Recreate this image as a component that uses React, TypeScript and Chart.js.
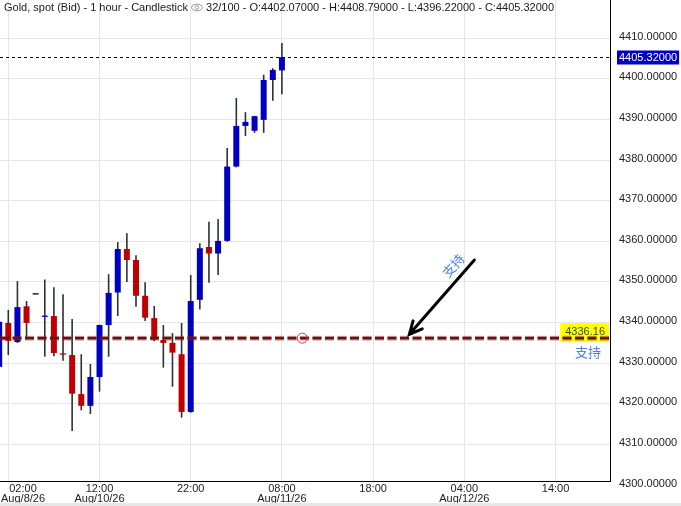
import React, { useEffect, useRef } from 'react';
import { Chart, registerables } from 'chart.js';

Chart.register(...registerables);

// ---- data ----
const CATEGORIES = [
  '01:00', '02:00', '03:00', '04:00', '05:00', '06:00', '07:00', '08:00',
  '09:00', '10:00', '11:00', '12:00', '13:00', '14:00', '15:00', '16:00',
  '17:00', '18:00', '19:00', '20:00', '21:00', '22:00', '23:00', '00:00',
  '01:00', '02:00', '03:00', '04:00', '05:00', '06:00', '07:00', '08:00',
];
const OPEN = [
  4329.1, 4339.9, 4335.2, 4344.0, 4346.9, 4341.4, 4341.6, 4332.3,
  4332.0, 4322.4, 4319.5, 4326.6, 4339.4, 4347.4, 4358.1, 4355.4,
  4346.6, 4341.1, 4335.7, 4335.0, 4332.2, 4318.0, 4345.6, 4358.6,
  4357.0, 4360.1, 4378.4, 4388.4, 4387.2, 4389.9, 4399.7, 4402.07,
];
const HIGH = [
  4341.0, 4343.1, 4350.2, 4345.3, 4346.9, 4350.6, 4348.7, 4347.0,
  4340.9, 4332.2, 4329.8, 4339.5, 4351.9, 4359.8, 4362.0, 4356.6,
  4349.9, 4344.1, 4339.4, 4337.4, 4339.9, 4351.7, 4359.5, 4364.8,
  4365.5, 4383.0, 4395.3, 4391.8, 4390.9, 4401.0, 4402.6, 4408.79,
];
const LOW = [
  4328.0, 4332.0, 4335.0, 4336.1, 4346.9, 4331.6, 4331.7, 4330.6,
  4313.3, 4318.4, 4317.5, 4323.0, 4331.6, 4341.6, 4350.0, 4343.9,
  4340.4, 4335.4, 4328.9, 4324.2, 4316.6, 4317.8, 4343.2, 4349.8,
  4351.7, 4359.9, 4378.2, 4385.9, 4386.7, 4386.7, 4394.6, 4396.22,
];
const CLOSE = [
  4340.2, 4335.5, 4343.8, 4339.9, 4346.9, 4341.6, 4332.5, 4332.1,
  4322.5, 4319.5, 4326.6, 4339.4, 4347.3, 4358.1, 4355.4, 4346.6,
  4341.2, 4335.8, 4335.0, 4332.6, 4318.0, 4345.3, 4358.3, 4357.0,
  4360.1, 4378.4, 4388.4, 4389.4, 4390.8, 4399.7, 4402.2, 4405.32,
];

const X_TICK_INDEX = [1, 11, 21, 31, 41, 51, 61];
const X_TICK_LABELS = [
  ['02:00', 'Aug/8/26'],
  ['12:00', 'Aug/10/26'],
  ['22:00'],
  ['08:00', 'Aug/11/26'],
  ['18:00'],
  ['04:00', 'Aug/12/26'],
  ['14:00'],
];
const Y_TICKS = [4300, 4310, 4320, 4330, 4340, 4350, 4360, 4370, 4380, 4390, 4400, 4410];

const X_MIN = 0.09;
const X_MAX = 66.97;
const Y_MIN = 4301.0;
const Y_MAX = 4419.4;

const TITLE = 'Gold, spot (Bid) - 1 hour - Candlestick';
const MAX_BARS = 100;

const SUPPORT = 4336.16;
const SUPPORT_TEXT = '支持';
const CIRCLE_AT = [33.23, SUPPORT];
const ARROW_FROM = [52.1, 4355.4];
const ARROW_TO = [44.97, 4337.1];
const ARROW_TEXT_AT = [49.8, 4354.0];

// ---- styles ----
const UP = '#0000c0';
const DOWN = '#c00000';
const FLAT = '#000000';
const WICK = '#2b3232';
const GRID = '#e6e6e6';
const FONT = '"Liberation Sans", Arial, sans-serif';
const CJK = '"Noto Sans CJK SC", sans-serif';

const overlay = {
  id: 'overlay',
  afterDatasetsDraw(chart: any) {
    const { ctx, chartArea: a, scales } = chart;
    const x = scales.x;
    const y = scales.y;
    ctx.save();

    // current price dotted line
    const last = CLOSE.length - 1;
    const py = Math.round(y.getPixelForValue(CLOSE[last])) + 0.5;
    ctx.strokeStyle = '#000';
    ctx.lineWidth = 1;
    ctx.setLineDash([3, 3]);
    ctx.beginPath();
    ctx.moveTo(a.left, py);
    ctx.lineTo(a.right, py);
    ctx.stroke();
    ctx.setLineDash([]);

    // support label box
    const sy = y.getPixelForValue(SUPPORT);
    ctx.font = `11px ${FONT}`;
    const sLabel = SUPPORT.toFixed(2);
    const tw = ctx.measureText(sLabel).width;
    ctx.fillStyle = '#ffff00';
    ctx.fillRect(a.right - tw - 10, sy - 15, tw + 9, 19);
    ctx.fillStyle = '#3c4a00';
    ctx.textAlign = 'right';
    ctx.textBaseline = 'alphabetic';
    ctx.fillText(sLabel, a.right - 5, sy - 3);

    // support line
    ctx.setLineDash([9, 3.5]);
    ctx.strokeStyle = 'rgba(150,40,40,0.35)';
    ctx.lineWidth = 5;
    ctx.beginPath();
    ctx.moveTo(a.left, sy);
    ctx.lineTo(a.right, sy);
    ctx.stroke();
    ctx.strokeStyle = '#6a1010';
    ctx.lineWidth = 2.8;
    ctx.beginPath();
    ctx.moveTo(a.left, sy);
    ctx.lineTo(a.right, sy);
    ctx.stroke();
    ctx.setLineDash([]);

    // anchor circle
    ctx.strokeStyle = '#ff2a2a';
    ctx.lineWidth = 1;
    ctx.beginPath();
    ctx.arc(x.getPixelForValue(CIRCLE_AT[0]), y.getPixelForValue(CIRCLE_AT[1]), 5, 0, Math.PI * 2);
    ctx.stroke();

    // support text below label
    ctx.font = `13px ${CJK}`;
    ctx.fillStyle = '#4f7ff0';
    ctx.textAlign = 'center';
    ctx.textBaseline = 'middle';
    ctx.fillText(SUPPORT_TEXT, a.right - 22, sy + 14);

    // arrow
    const x1 = x.getPixelForValue(ARROW_FROM[0]);
    const y1 = y.getPixelForValue(ARROW_FROM[1]);
    const x2 = x.getPixelForValue(ARROW_TO[0]);
    const y2 = y.getPixelForValue(ARROW_TO[1]);
    const ang = Math.atan2(y2 - y1, x2 - x1);
    ctx.strokeStyle = '#000';
    ctx.lineWidth = 3;
    ctx.lineCap = 'round';
    ctx.beginPath();
    ctx.moveTo(x1, y1);
    ctx.lineTo(x2, y2);
    const head = 14;
    const spread = 0.45;
    ctx.moveTo(x2 - head * Math.cos(ang - spread), y2 - head * Math.sin(ang - spread));
    ctx.lineTo(x2, y2);
    ctx.lineTo(x2 - head * Math.cos(ang + spread), y2 - head * Math.sin(ang + spread));
    ctx.stroke();

    // rotated text along arrow
    ctx.save();
    ctx.translate(x.getPixelForValue(ARROW_TEXT_AT[0]), y.getPixelForValue(ARROW_TEXT_AT[1]));
    ctx.rotate(Math.atan2(y1 - y2, x1 - x2));
    ctx.font = `13px ${CJK}`;
    ctx.fillStyle = '#4f7ff0';
    ctx.textAlign = 'center';
    ctx.textBaseline = 'middle';
    ctx.fillText(SUPPORT_TEXT, 0, 0);
    ctx.restore();

    // current price box on axis
    ctx.font = `11px ${FONT}`;
    const pLabel = CLOSE[last].toFixed(5);
    const pw = ctx.measureText(pLabel).width;
    const bx = a.right + 7;
    ctx.fillStyle = '#0000c8';
    ctx.fillRect(bx, py - 7, pw + 4, 14);
    ctx.fillStyle = '#ffffff';
    ctx.textAlign = 'left';
    ctx.textBaseline = 'middle';
    ctx.fillText(pLabel, bx + 2, py);

    ctx.restore();
  },
  afterDraw(chart: any) {
    const { ctx, chartArea: a, scales } = chart;
    const x = scales.x;
    ctx.save();
    // x labels
    ctx.font = `11px ${FONT}`;
    ctx.fillStyle = '#222';
    ctx.textAlign = 'center';
    ctx.textBaseline = 'alphabetic';
    X_TICK_INDEX.forEach((v, i) => {
      const lines = X_TICK_LABELS[i];
      const w = Math.max(...lines.map((s) => ctx.measureText(s).width));
      let cx = x.getPixelForValue(v);
      if (cx - w / 2 < 1) cx = 1 + w / 2;
      lines.forEach((s, j) => ctx.fillText(s, cx, a.bottom + 11 + j * 9.5));
    });

    // header
    const last = CLOSE.length - 1;
    ctx.textAlign = 'left';
    ctx.fillStyle = '#1a1a1a';
    ctx.fillText(TITLE, 4, 11);
    const tW = ctx.measureText(TITLE).width;
    const ex = 4 + tW + 9;
    ctx.strokeStyle = '#9a9a9a';
    ctx.lineWidth = 1;
    ctx.beginPath();
    ctx.ellipse(ex, 7.5, 5.5, 3.3, 0, 0, Math.PI * 2);
    ctx.stroke();
    ctx.beginPath();
    ctx.arc(ex, 7.5, 1.8, 0, Math.PI * 2);
    ctx.stroke();
    const info = `${CATEGORIES.length}/${MAX_BARS} - O:${OPEN[last].toFixed(5)} - H:${HIGH[last].toFixed(5)} - L:${LOW[last].toFixed(5)} - C:${CLOSE[last].toFixed(5)}`;
    ctx.fillText(info, ex + 9, 11);
    ctx.restore();
  },
};

export default function App() {
  const ref = useRef<HTMLCanvasElement | null>(null);

  useEffect(() => {
    if (!ref.current) return;
    const bodies = CATEGORIES.map((_, i) => ({
      x: i,
      y: [Math.min(OPEN[i], CLOSE[i]), Math.max(OPEN[i], CLOSE[i])],
    }));
    const wicks = CATEGORIES.map((_, i) => ({ x: i, y: [LOW[i], HIGH[i]] }));
    const colors = CATEGORIES.map((_, i) =>
      CLOSE[i] > OPEN[i] ? UP : CLOSE[i] < OPEN[i] ? DOWN : FLAT,
    );

    const chart = new Chart(ref.current, {
      type: 'bar',
      data: {
        datasets: [
          {
            label: 'body',
            data: bodies as any,
            backgroundColor: colors,
            barThickness: 6,
            grouped: false,
            order: 0,
            minBarLength: 1.3,
            inflateAmount: 0,
          } as any,
          {
            label: 'wick',
            data: wicks as any,
            backgroundColor: WICK,
            barThickness: 1.6,
            grouped: false,
            order: 1,
            inflateAmount: 0,
          } as any,
        ],
      },
      options: {
        animation: false,
        responsive: false,
        layout: { padding: 0 },
        plugins: { legend: { display: false }, tooltip: { enabled: false } },
        scales: {
          x: {
            type: 'linear',
            min: X_MIN,
            max: X_MAX,
            offset: false,
            grid: { color: GRID, lineWidth: 1, drawTicks: false, offset: false },
            border: { display: true, color: '#000', width: 1 },
            ticks: { display: false },
            afterBuildTicks: (s: any) => {
              s.ticks = X_TICK_INDEX.map((v) => ({ value: v }));
            },
            afterFit: (s: any) => {
              s.height = 22;
              s.paddingLeft = 0;
              s.paddingRight = 0;
            },
          },
          y: {
            type: 'linear',
            position: 'right',
            min: Y_MIN,
            max: Y_MAX,
            grid: {
              color: (c: any) => (c.tick && c.tick.value < Y_MIN ? 'rgba(0,0,0,0)' : GRID),
              lineWidth: 1,
              drawTicks: false,
            },
            border: { display: true, color: '#000', width: 1 },
            ticks: {
              autoSkip: false,
              padding: 9,
              labelOffset: -1.5,
              color: '#222',
              font: { family: FONT, size: 11 },
              callback: (v: any) => Number(v).toFixed(5),
            },
            afterBuildTicks: (s: any) => {
              s.ticks = Y_TICKS.map((v) => ({ value: v }));
            },
            afterFit: (s: any) => {
              s.width = 71;
              s.paddingTop = 0;
              s.paddingBottom = 0;
            },
          },
        },
      } as any,
      plugins: [overlay],
    });
    return () => chart.destroy();
  }, []);

  return (
    <div
      style={{
        position: 'absolute',
        left: 0,
        top: 0,
        width: 681,
        height: 506,
        background: '#e8e8e8',
      }}
    >
      <canvas
        ref={ref}
        width={681}
        height={503}
        style={{ display: 'block', background: '#ffffff' }}
      />
    </div>
  );
}
